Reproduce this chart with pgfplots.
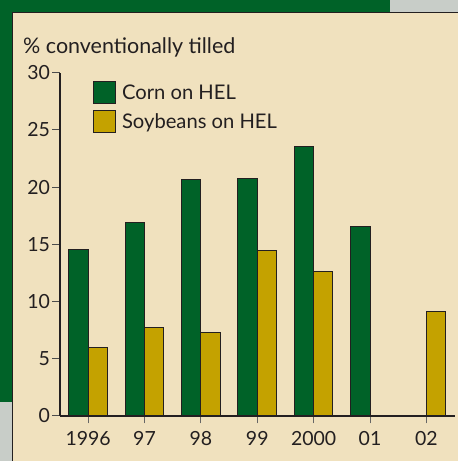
\documentclass[border=0pt]{standalone}
\usepackage{pgfplots}
\pgfplotsset{compat=1.18}
\usepackage{fontspec}
\setmainfont{Lato}
\definecolor{bggreen}{RGB}{0,98,40}
\definecolor{bargreen}{RGB}{0,98,40}
\definecolor{bargold}{RGB}{196,162,0}
\definecolor{cream}{RGB}{240,225,190}
\definecolor{bggray}{RGB}{200,205,200}
\definecolor{ink}{RGB}{35,31,32}
\newcommand{\titlefont}{\fontsize{21.5bp}{24bp}\selectfont}
\newcommand{\legfont}{\fontsize{20.2bp}{23bp}\selectfont}
\newcommand{\chartfont}{\fontsize{19.5bp}{22bp}\selectfont}
\begin{document}
\begin{tikzpicture}[x=1bp,y=1bp]
\fill[bggray] (0,0) rectangle (458,461);
\fill[bggreen] (0,59) rectangle (390,461);
\fill[cream] (12,0) rectangle (458,449);
\draw[ink,line width=0.8bp] (12,0) -- (12,449) -- (458,449);
\node[anchor=base west,inner sep=0pt,text=ink,font=\titlefont] at (23,407) {\% conventionally tilled};
\begin{axis}[
  at={(60bp,44.7bp)}, anchor=south west,
  scale only axis, width=395bp, height=343.6bp,
  xmin=-0.5, xmax=6.5, ymin=0, ymax=30,
  axis x line=bottom, axis y line=left,
  axis line style={-, ink, line width=1.2bp},
  xtick={0,1,2,3,4,5,6},
  xticklabels={1996,97,98,99,2000,01,02},
  ytick={0,5,10,15,20,25,30},
  tick align=outside,
  major tick length=7.5bp,
  x tick style={draw=gray!80!black, line width=1bp},
  y tick style={draw=gray!60!black, line width=1bp},
  /pgf/number format/assume math mode=true,
  tick label style={font=\chartfont, text=ink},
  yticklabel style={xshift=1bp},
  xticklabel style={yshift=-4bp},
  ybar, bar width=19.3bp,
  legend style={at={(0.0835,0.976)}, anchor=north west, draw=none, fill=none,
    inner sep=0pt, row sep=6bp, font=\legfont, text=ink,
    nodes={inner sep=1bp, anchor=west}},
  legend cell align=left,
  legend image code/.code={\draw[#1,line width=1bp] (0bp,-11bp) rectangle (22bp,11bp);},
  clip=false,
]
\addplot[bar shift=-9.65bp, fill=bargreen, draw=ink, line width=1bp]
  coordinates {(0,14.55) (1,16.94) (2,20.66) (3,20.75) (4,23.55) (5,16.53)};
\addlegendentry{\hspace{5bp}Corn on HEL}
\addplot[bar shift=9.65bp, fill=bargold, draw=ink, line width=1bp]
  coordinates {(0,5.94) (1,7.71) (2,7.25) (3,14.44) (4,12.66) (6,9.11)};
\addlegendentry{\hspace{5bp}Soybeans on HEL}
\end{axis}
\end{tikzpicture}
\end{document}
